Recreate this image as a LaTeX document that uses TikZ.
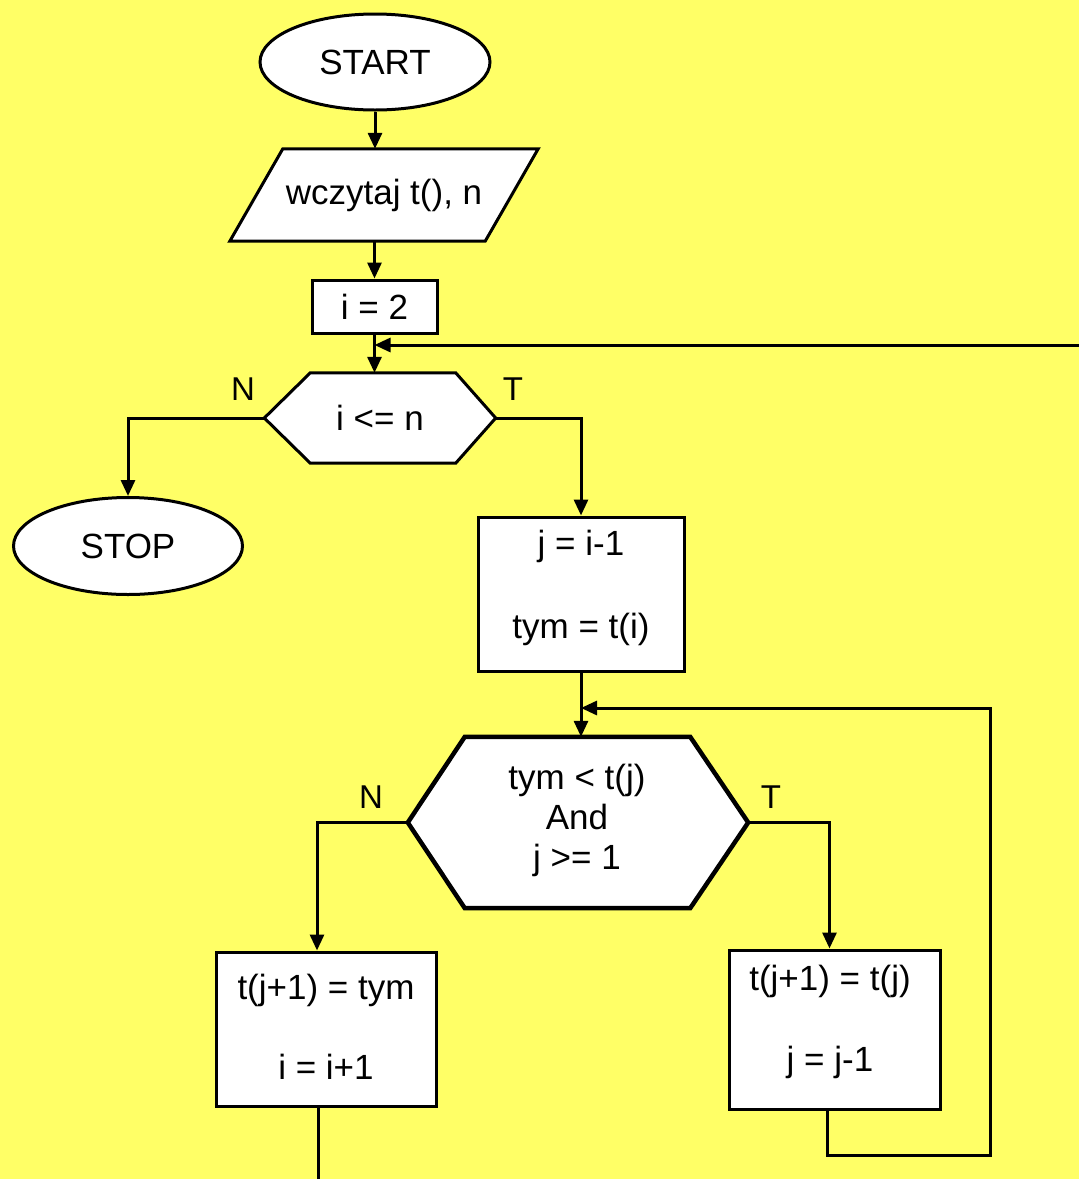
\documentclass[tikz,border=0pt]{standalone}
\usepackage{fontspec}
\setmainfont{Liberation Sans}
\usetikzlibrary{arrows.meta,shapes.geometric}
\definecolor{bg}{RGB}{255,255,102}
\begin{document}
\begin{tikzpicture}[x=1pt,y=-1pt,
  ln/.style={line width=3pt},
  arr/.style={ln,-{Triangle[length=16pt,width=14pt]}},
  term/.style={ellipse,draw,fill=white,line width=3pt,inner sep=0pt,font=\fontsize{35}{42}\selectfont},
  ghost/.style={inner sep=0pt,font=\fontsize{35}{42}\selectfont,align=center},
  proc/.style={draw,fill=white,line width=3pt,inner sep=0pt,align=center},
  lab/.style={inner sep=0pt,font=\fontsize{33}{40}\selectfont}]
\fill[bg] (0,0) rectangle (1079,1179);
\useasboundingbox (0,0) rectangle (1079,1179);

% START
\node[term,minimum width=230pt,minimum height=96pt] (start) at (375,62) {START};
% input parallelogram
\node[ghost,minimum width=308pt,minimum height=92pt] (par) at (384,195) {};
\filldraw[fill=white,ln,line join=miter] ([xshift=53pt]par.north west) -- (par.north east) -- ([xshift=-53pt]par.south east) -- (par.south west) -- cycle;
\node[ghost] (partxt) at (par.center) {wczytaj t(), n};
% i = 2
\node[proc,minimum width=125pt,minimum height=53pt,font=\fontsize{35}{42}\selectfont] (i2) at (374.5,306.5) {i = 2};
% decision 1
\node[ghost,minimum width=231pt,minimum height=90pt] (d1) at (380,418) {};
\filldraw[fill=white,ln,line join=miter] (d1.west) -- ([xshift=46pt]d1.north west) -- ([xshift=-40pt]d1.north east) -- (d1.east) -- ([xshift=-40pt]d1.south east) -- ([xshift=46pt]d1.south west) -- cycle;
\node[ghost] (d1txt) at (d1.center) {i <= n};
\node[lab] (n1) at (243,389) {N};
\node[lab] (t1) at (513,389) {T};
% STOP
\node[term,minimum width=229pt,minimum height=97pt] (stop) at (128,546) {STOP};
% j = i-1 box
\node[proc,minimum width=206pt,minimum height=154pt] (b1) at (581,594) {};
\node[ghost,font=\fontsize{35}{83}\selectfont] (b1txt) at (581,588) {j = i-1\\tym = t(i)};
% decision 2
\node[ghost,minimum width=340pt,minimum height=171pt] (d2) at (578,822.5) {};
\filldraw[fill=white,line width=4.5pt,line join=miter] (d2.west) -- ([xshift=57pt]d2.north west) -- ([xshift=-58pt]d2.north east) -- (d2.east) -- ([xshift=-58pt]d2.south east) -- ([xshift=57pt]d2.south west) -- cycle;
\node[ghost,font=\fontsize{35}{40}\selectfont] (d2txt) at (577,820) {tym < t(j)\\And\\j >= 1};
\node[lab] (n2) at (371,797) {N};
\node[lab] (t2) at (771,797) {T};
% left box
\node[proc,minimum width=220pt,minimum height=154pt] (b3) at (326,1029) {};
\node[ghost,font=\fontsize{35}{80}\selectfont] (b3txt) at (326,1027) {t(j+1) = tym\\i = i+1};
% right box
\node[proc,minimum width=211pt,minimum height=159pt] (b2) at (834.5,1029.5) {};
\node[ghost,font=\fontsize{35}{81}\selectfont] (b2txt) at (830,1022) {t(j+1) = t(j)\\j = j-1};

% coordinates for loops
\coordinate (lpA) at (1079,345);
\coordinate (lpB) at (990,1155);
\coordinate (lpC) at (990,708);
\coordinate (endL) at (318,1179);

% connectors
\draw[arr] (start.south) -- (start.south |- par.north);
\draw[arr] (par.south -| i2.north) -- (i2.north);
\draw[arr] (i2.south) -- (i2.south |- d1.north);
\draw[arr] (lpA) -- (lpA -| i2.south);
\draw[arr] (d1.west) -| (stop.north);
\draw[arr] (d1.east) -| (b1.north);
\draw[arr] (b1.south) -- (b1.south |- d2.north);
\draw[arr] (d2.west) -| ([xshift=-9pt]b3.north);
\draw[arr] (d2.east) -| ([xshift=-5pt]b2.north);
\draw[ln] ([xshift=-8pt]b3.south) -- (endL);
\draw[arr] ([xshift=-7pt]b2.south) |- (lpB) -- (lpC) -- (lpC -| b1.south);
\end{tikzpicture}
\end{document}
